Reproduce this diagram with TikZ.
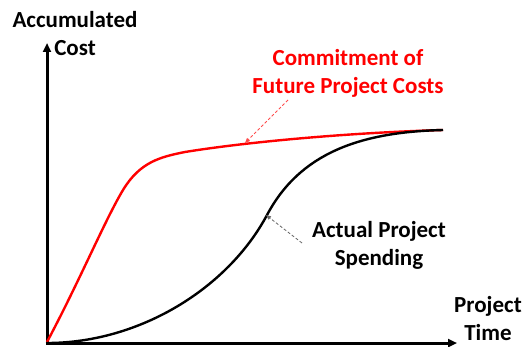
\documentclass[tikz,border=0pt]{standalone}
\usepackage{fontspec}
\setmainfont{Carlito}
\usepackage{tikz}
\usetikzlibrary{arrows.meta}
\usetikzlibrary{positioning}

\begin{document}
\begin{tikzpicture}[x=1pt, y=-1pt,
ax/.style={line width=3pt, -{Triangle[length=9pt,width=8pt]}},
cv/.style={line width=2.4pt},
lbl/.style={font=\bfseries\fontsize{23}{28}\selectfont, align=center, inner sep=0pt},
pt/.style={densely dashed, line width=0.8pt, -{Triangle[length=5pt,width=4pt]}}]
\useasboundingbox (0,0) rectangle (526,347);
\coordinate (o) at (47,343);
\coordinate (ytop) at (47,43);
\coordinate (xend) at (457,343);
\draw[ax] (47,344.5) to (ytop);
\draw[ax] (45.5,343) to (xend);
% curves
\draw[cv, red] (47,342) .. controls (80,280) and (105,220) .. (123,190)
  .. controls (140,162) and (160,157) .. (185,152)
  .. controls (240,143) and (340,133) .. (443,130);
\draw[cv] (o) .. controls (140,343) and (228,288) .. (267,215)
  .. controls (300,153) and (360,132) .. (443,130);
% labels
\node[lbl] (yl) at (75,34) {Accumulated\\Cost};
\node[lbl] (xl) at (488,319) {Project\\Time};
\node[lbl, red] (cm) at (348,73) {Commitment of\\Future Project Costs};
\node[lbl] (sp) at (379,245) {Actual Project\\Spending};
\coordinate (cms) at (288,100);
\coordinate (cmt) at (245,143);
\coordinate (sps) at (302,243);
\coordinate (spt) at (266,215);
\draw[pt, red!70] (cms) to (cmt);
\draw[pt, black!60] (sps) to (spt);
\end{tikzpicture}
\end{document}
